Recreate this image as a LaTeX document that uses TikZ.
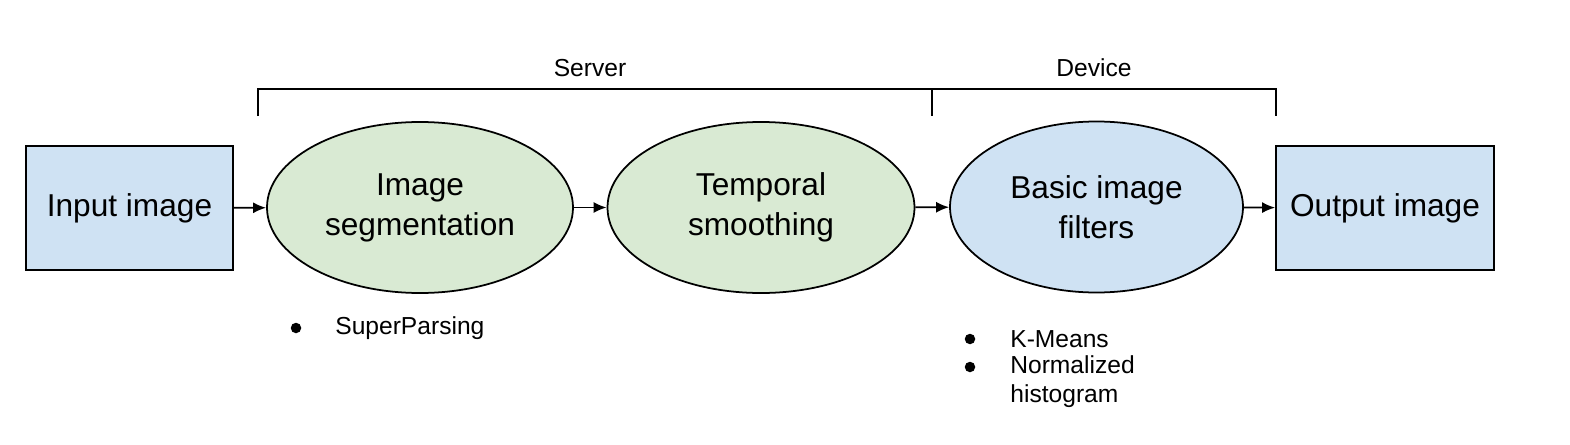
\documentclass[tikz,border=0pt]{standalone}
\usepackage{fontspec}
\setmainfont{Liberation Sans}
\usetikzlibrary{arrows.meta, shapes.geometric}

\definecolor{boxblue}{HTML}{CFE2F3}
\definecolor{stagegreen}{HTML}{D9EAD3}

\tikzset{
  imgbox/.style = {draw, line width = 1pt, fill = boxblue, minimum width = 4.2cm,
    minimum height = 2.48cm, font = \fontsize{18}{21.6}\selectfont},
  stage/.style = {ellipse, draw, line width = 1pt, inner sep = 0pt, minimum height = 3.42cm,
    align = center, font = \fontsize{18}{22.8}\selectfont},
  flow/.style = {-{Latex[length = 0.26cm, width = 0.22cm]}, line width = 1pt},
  note/.style = {font = \fontsize{14}{16.8}\selectfont, inner sep = 0pt},
  dot/.style = {circle, fill, inner sep = 0pt, minimum size = 0.21cm}
}

\begin{document}
\begin{tikzpicture}

    \useasboundingbox (0, 0) rectangle (31.4, 8.88);

      %pipeline
      \node (input) at (2.59, 4.72) [imgbox, minimum width = 4.14cm] {Input image};
      \node (seg) at (8.40, 4.73) [stage, fill = stagegreen, minimum width = 6.12cm] {Image\\segmentation};
      \node (smooth) at (15.22, 4.73) [stage, fill = stagegreen, minimum width = 6.14cm] {Temporal\\smoothing};
      \node (filters) at (21.93, 4.74) [stage, fill = boxblue, minimum width = 5.86cm] {Basic image\\filters};
      \node (output) at (27.70, 4.72) [imgbox, minimum width = 4.36cm] {Output image};

      \draw[flow] (input) -- (seg);
      \draw[flow] (seg) -- (smooth);
      \draw[flow] (smooth) -- (filters);
      \draw[flow] (filters) -- (output);

      %server / device bracket
      \path (5.16, 7.10) coordinate (P);
      \path (18.64, 7.10) coordinate (Q);
      \path (25.52, 7.10) coordinate (R);
      \draw[line width = 1pt] (P) ++(0, -0.54) -- (P) -- (R) -- ++(0, -0.54);
      \draw[line width = 1pt] (Q) -- ++(0, -0.54);

      \node (server) at (11.8, 7.52) [note] {Server};
      \node (device) at (21.88, 7.52) [note] {Device};

      %methods
      \node (d1) at (5.92, 2.32) [dot] {};
      \node (superparsing) at (6.70, 2.32) [note, anchor = west] {SuperParsing};
      \node (d2) at (19.40, 2.10) [dot] {};
      \node (kmeans) at (20.20, 2.10) [note, anchor = west] {K-Means};
      \node (d3) at (19.40, 1.54) [dot] {};
      \node (normhist) at (20.20, 1.54) [note, anchor = west, yshift = -0.29cm, align = left] {Normalized\\histogram};

\end{tikzpicture}
\end{document}
